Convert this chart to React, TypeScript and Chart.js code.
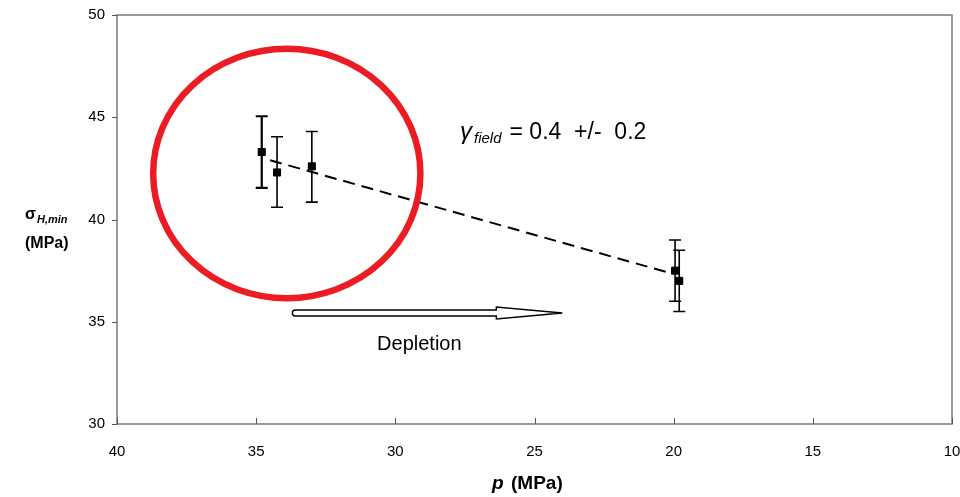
import React, { useEffect, useRef } from "react";
import { Chart, registerables } from "chart.js";
Chart.register(...registerables);

// measured points: pore pressure p (MPa) vs minimum horizontal stress (MPa)
const pressure = [34.8, 34.25, 33.0, 19.95, 19.8];
const stress = [43.3, 42.3, 42.6, 37.5, 37.0];
const errPlus = [1.75, 1.75, 1.7, 1.5, 1.5];
const errMinus = [1.75, 1.7, 1.75, 1.5, 1.5];
// dashed fit line
const fitP = [34.5, 20.05];
const fitS = [42.9, 37.35];
// axes ticks
const xTicks = [40, 35, 30, 25, 20, 15, 10];
const yTicks = [30, 35, 40, 45, 50];
// annotation anchors (data coordinates)
const ellipseCenter = [33.9, 42.25];
const ellipseRadius = [4.8, 6.1];
const arrowFrom = [33.7, 35.43];
const arrowTo = [24.0, 35.43];

const FONT = "'Liberation Sans', Arial, sans-serif";

const overlay = {
  id: "overlay",
  afterDatasetsDraw(chart: any) {
    const { ctx, chartArea: a, scales } = chart;
    const xs = scales.x, ys = scales.y;
    ctx.save();
    // border
    ctx.strokeStyle = "#7a7a7a";
    ctx.lineWidth = 1.5;
    ctx.strokeRect(a.left, a.top, a.right - a.left, a.bottom - a.top);
    // ticks: x inward, y outward
    ctx.strokeStyle = "#555";
    ctx.lineWidth = 1;
    ctx.beginPath();
    xTicks.forEach((v) => {
      const px = Math.round(xs.getPixelForValue(v)) + 0.5;
      ctx.moveTo(px, a.bottom);
      ctx.lineTo(px, a.bottom - 6);
    });
    yTicks.forEach((v) => {
      const py = Math.round(ys.getPixelForValue(v)) + 0.5;
      ctx.moveTo(a.left - 5, py);
      ctx.lineTo(a.left, py);
    });
    ctx.stroke();
    // error bars
    ctx.strokeStyle = "#000";
    pressure.forEach((p, i) => {
      const px = xs.getPixelForValue(p);
      const top = ys.getPixelForValue(stress[i] + errPlus[i]);
      const bot = ys.getPixelForValue(stress[i] - errMinus[i]);
      ctx.lineWidth = i === 0 ? 2.2 : 1.6;
      ctx.beginPath();
      ctx.moveTo(px, top);
      ctx.lineTo(px, bot);
      ctx.moveTo(px - 6, top);
      ctx.lineTo(px + 6, top);
      ctx.moveTo(px - 6, bot);
      ctx.lineTo(px + 6, bot);
      ctx.stroke();
    });
    // red ellipse
    const cx = xs.getPixelForValue(ellipseCenter[0]);
    const cy = ys.getPixelForValue(ellipseCenter[1]);
    const rx = Math.abs(xs.getPixelForValue(ellipseCenter[0] - ellipseRadius[0]) - cx);
    const ry = Math.abs(ys.getPixelForValue(ellipseCenter[1] - ellipseRadius[1]) - cy);
    ctx.strokeStyle = "#ec1c24";
    ctx.lineWidth = 6.5;
    ctx.beginPath();
    ctx.ellipse(cx, cy, rx, ry, 0, 0, Math.PI * 2);
    ctx.stroke();
    // hollow arrow
    const x1 = xs.getPixelForValue(arrowFrom[0]);
    const x2 = xs.getPixelForValue(arrowTo[0]);
    const ay = ys.getPixelForValue(arrowFrom[1]);
    const xh = x2 - 66;
    ctx.strokeStyle = "#000";
    ctx.fillStyle = "#fff";
    ctx.lineWidth = 1.4;
    ctx.beginPath();
    ctx.moveTo(x1 + 3, ay - 3);
    ctx.lineTo(xh, ay - 3);
    ctx.lineTo(xh, ay - 6);
    ctx.lineTo(x2, ay);
    ctx.lineTo(xh, ay + 6);
    ctx.lineTo(xh, ay + 3);
    ctx.lineTo(x1 + 3, ay + 3);
    ctx.arc(x1 + 3, ay, 3, Math.PI / 2, Math.PI * 1.5);
    ctx.closePath();
    ctx.fill();
    ctx.stroke();
    // Depletion label
    ctx.fillStyle = "#000";
    ctx.font = `20px ${FONT}`;
    ctx.textAlign = "center";
    ctx.textBaseline = "alphabetic";
    ctx.fillText("Depletion", (x1 + x2) / 2 - 8, 350);
    // gamma annotation
    ctx.textAlign = "left";
    let tx = 460;
    const ty = 139;
    ctx.font = `italic 24px ${FONT}`;
    ctx.fillText("γ", tx, ty);
    tx += ctx.measureText("γ").width + 2;
    ctx.font = `italic 15px ${FONT}`;
    ctx.fillText("field", tx, ty + 4);
    tx += ctx.measureText("field").width + 8;
    ctx.font = `23px ${FONT}`;
    ctx.fillText("= 0.4  +/-  0.2", tx, ty);
    // y title
    ctx.font = `bold 16px ${FONT}`;
    ctx.fillText("σ", 25, 219);
    const yx = 25 + ctx.measureText("σ").width + 1;
    ctx.font = `bold italic 11px ${FONT}`;
    ctx.fillText("H,min", yx, 223);
    ctx.font = `bold 16px ${FONT}`;
    ctx.fillText("(MPa)", 25, 248);
    // x title
    ctx.font = `bold italic 19px ${FONT}`;
    ctx.fillText("p", 492, 489);
    ctx.font = `bold 19px ${FONT}`;
    ctx.fillText("(MPa)", 511, 489);
    ctx.restore();
  },
};

export default function App() {
  const ref = useRef<HTMLCanvasElement>(null);
  useEffect(() => {
    const chart = new Chart(ref.current!, {
      type: "scatter",
      data: {
        datasets: [
          {
            label: "fit",
            type: "line",
            data: fitP.map((p, i) => ({ x: p, y: fitS[i] })),
            borderColor: "#000",
            borderWidth: 2,
            borderDash: [12, 7],
            pointRadius: 0,
            fill: false,
          } as any,
          {
            label: "data",
            data: pressure.map((p, i) => ({ x: p, y: stress[i] })),
            pointStyle: "rect",
            pointRadius: 5,
            backgroundColor: "#000",
            borderColor: "#000",
          },
        ],
      },
      options: {
        animation: false,
        responsive: false,
        maintainAspectRatio: false,
        layout: { padding: { top: 15, right: 8, left: 0, bottom: 0 } },
        plugins: { legend: { display: false }, tooltip: { enabled: false } },
        scales: {
          x: {
            type: "linear",
            min: 10,
            max: 40,
            reverse: true,
            grid: { display: false, drawTicks: false },
            border: { display: false },
            ticks: {
              color: "#000",
              font: { family: FONT, size: 15 },
              padding: 19,
              maxRotation: 0,
            },
            afterBuildTicks: (s: any) => {
              s.ticks = xTicks.map((v) => ({ value: v }));
            },
            afterFit: (s: any) => {
              s.height = 73;
              s.paddingLeft = 0;
              s.paddingRight = 0;
            },
          },
          y: {
            type: "linear",
            min: 30,
            max: 50,
            grid: { display: false, drawTicks: false },
            border: { display: false },
            ticks: {
              color: "#000",
              font: { family: FONT, size: 15 },
              padding: 12,
            },
            afterBuildTicks: (s: any) => {
              s.ticks = yTicks.map((v) => ({ value: v }));
            },
            afterFit: (s: any) => {
              s.width = 117;
              s.paddingTop = 0;
              s.paddingBottom = 0;
            },
          },
        },
      },
      plugins: [overlay],
    });
    return () => chart.destroy();
  }, []);
  return (
    <div style={{ position: "fixed", left: 0, top: 0, width: 960, height: 497, background: "#fff" }}>
      <canvas ref={ref} width={960} height={497} style={{ width: 960, height: 497 }} />
    </div>
  );
}
